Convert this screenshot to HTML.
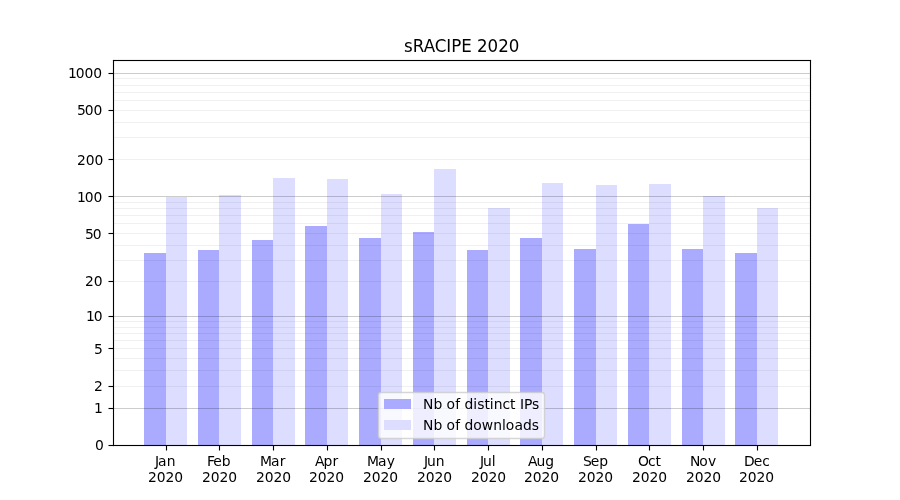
<!DOCTYPE html>
<html lang="en"><head><meta charset="utf-8"><title>sRACIPE 2020</title>
<style>
html,body{margin:0;padding:0;background:#fff;overflow:hidden;}
body{width:900px;height:500px;overflow:hidden;}
svg{display:block;}
text{font-family:"DejaVu Sans","Liberation Sans",sans-serif;fill:#000;white-space:pre;}
.t10{font-size:13.8889px;}
.t12{font-size:16.6667px;}
</style></head><body>
<svg width="900" height="500" viewBox="0 0 900 500">
<rect x="0" y="0" width="900" height="500" fill="#fff"/>
<g shape-rendering="crispEdges">
<g>
<rect x="144" y="253" width="22" height="192" fill="#aaaaff"/>
<rect x="166" y="197" width="21" height="248" fill="#ddddff"/>
<rect x="198" y="250" width="21" height="195" fill="#aaaaff"/>
<rect x="219" y="195" width="22" height="250" fill="#ddddff"/>
<rect x="252" y="240" width="21" height="205" fill="#aaaaff"/>
<rect x="273" y="178" width="22" height="267" fill="#ddddff"/>
<rect x="305" y="226" width="22" height="219" fill="#aaaaff"/>
<rect x="327" y="179" width="21" height="266" fill="#ddddff"/>
<rect x="359" y="238" width="22" height="207" fill="#aaaaff"/>
<rect x="381" y="194" width="21" height="251" fill="#ddddff"/>
<rect x="413" y="232" width="21" height="213" fill="#aaaaff"/>
<rect x="434" y="169" width="22" height="276" fill="#ddddff"/>
<rect x="467" y="250" width="21" height="195" fill="#aaaaff"/>
<rect x="488" y="208" width="22" height="237" fill="#ddddff"/>
<rect x="520" y="238" width="22" height="207" fill="#aaaaff"/>
<rect x="542" y="183" width="21" height="262" fill="#ddddff"/>
<rect x="574" y="249" width="22" height="196" fill="#aaaaff"/>
<rect x="596" y="185" width="21" height="260" fill="#ddddff"/>
<rect x="628" y="224" width="21" height="221" fill="#aaaaff"/>
<rect x="649" y="184" width="22" height="261" fill="#ddddff"/>
<rect x="682" y="249" width="21" height="196" fill="#aaaaff"/>
<rect x="703" y="196" width="22" height="249" fill="#ddddff"/>
<rect x="735" y="253" width="22" height="192" fill="#aaaaff"/>
<rect x="757" y="208" width="21" height="237" fill="#ddddff"/>
</g>
<g fill="#000" fill-opacity="0.2">
<rect x="113" y="73" width="698" height="1"/>
<rect x="113" y="196" width="698" height="1"/>
<rect x="113" y="316" width="698" height="1"/>
<rect x="113" y="408" width="698" height="1"/>
</g>
<g fill="#000" fill-opacity="0.06">
<rect x="113" y="78" width="698" height="1"/>
<rect x="113" y="85" width="698" height="1"/>
<rect x="113" y="92" width="698" height="1"/>
<rect x="113" y="100" width="698" height="1"/>
<rect x="113" y="110" width="698" height="1"/>
<rect x="113" y="122" width="698" height="1"/>
<rect x="113" y="137" width="698" height="1"/>
<rect x="113" y="159" width="698" height="1"/>
<rect x="113" y="202" width="698" height="1"/>
<rect x="113" y="208" width="698" height="1"/>
<rect x="113" y="215" width="698" height="1"/>
<rect x="113" y="223" width="698" height="1"/>
<rect x="113" y="233" width="698" height="1"/>
<rect x="113" y="245" width="698" height="1"/>
<rect x="113" y="260" width="698" height="1"/>
<rect x="113" y="281" width="698" height="1"/>
<rect x="113" y="321" width="698" height="1"/>
<rect x="113" y="327" width="698" height="1"/>
<rect x="113" y="333" width="698" height="1"/>
<rect x="113" y="340" width="698" height="1"/>
<rect x="113" y="348" width="698" height="1"/>
<rect x="113" y="358" width="698" height="1"/>
<rect x="113" y="370" width="698" height="1"/>
<rect x="113" y="386" width="698" height="1"/>
</g>
<g fill="#000" fill-opacity="0.028">
<rect x="165" y="445" width="1" height="1"/><rect x="165" y="450" width="1" height="1"/><rect x="167" y="445" width="1" height="1"/><rect x="167" y="450" width="1" height="1"/><rect x="218" y="445" width="1" height="1"/><rect x="218" y="450" width="1" height="1"/><rect x="220" y="445" width="1" height="1"/><rect x="220" y="450" width="1" height="1"/><rect x="272" y="445" width="1" height="1"/><rect x="272" y="450" width="1" height="1"/><rect x="274" y="445" width="1" height="1"/><rect x="274" y="450" width="1" height="1"/><rect x="326" y="445" width="1" height="1"/><rect x="326" y="450" width="1" height="1"/><rect x="328" y="445" width="1" height="1"/><rect x="328" y="450" width="1" height="1"/><rect x="380" y="445" width="1" height="1"/><rect x="380" y="450" width="1" height="1"/><rect x="382" y="445" width="1" height="1"/><rect x="382" y="450" width="1" height="1"/><rect x="433" y="445" width="1" height="1"/><rect x="433" y="450" width="1" height="1"/><rect x="435" y="445" width="1" height="1"/><rect x="435" y="450" width="1" height="1"/><rect x="487" y="445" width="1" height="1"/><rect x="487" y="450" width="1" height="1"/><rect x="489" y="445" width="1" height="1"/><rect x="489" y="450" width="1" height="1"/><rect x="541" y="445" width="1" height="1"/><rect x="541" y="450" width="1" height="1"/><rect x="543" y="445" width="1" height="1"/><rect x="543" y="450" width="1" height="1"/><rect x="595" y="445" width="1" height="1"/><rect x="595" y="450" width="1" height="1"/><rect x="597" y="445" width="1" height="1"/><rect x="597" y="450" width="1" height="1"/><rect x="648" y="445" width="1" height="1"/><rect x="648" y="450" width="1" height="1"/><rect x="650" y="445" width="1" height="1"/><rect x="650" y="450" width="1" height="1"/><rect x="702" y="445" width="1" height="1"/><rect x="702" y="450" width="1" height="1"/><rect x="704" y="445" width="1" height="1"/><rect x="704" y="450" width="1" height="1"/><rect x="756" y="445" width="1" height="1"/><rect x="756" y="450" width="1" height="1"/><rect x="758" y="445" width="1" height="1"/><rect x="758" y="450" width="1" height="1"/><rect x="108" y="444" width="1" height="1"/><rect x="108" y="446" width="1" height="1"/><rect x="113" y="444" width="1" height="1"/><rect x="113" y="446" width="1" height="1"/><rect x="108" y="407" width="1" height="1"/><rect x="108" y="409" width="1" height="1"/><rect x="113" y="407" width="1" height="1"/><rect x="113" y="409" width="1" height="1"/><rect x="108" y="385" width="1" height="1"/><rect x="108" y="387" width="1" height="1"/><rect x="113" y="385" width="1" height="1"/><rect x="113" y="387" width="1" height="1"/><rect x="108" y="347" width="1" height="1"/><rect x="108" y="349" width="1" height="1"/><rect x="113" y="347" width="1" height="1"/><rect x="113" y="349" width="1" height="1"/><rect x="108" y="315" width="1" height="1"/><rect x="108" y="317" width="1" height="1"/><rect x="113" y="315" width="1" height="1"/><rect x="113" y="317" width="1" height="1"/><rect x="108" y="280" width="1" height="1"/><rect x="108" y="282" width="1" height="1"/><rect x="113" y="280" width="1" height="1"/><rect x="113" y="282" width="1" height="1"/><rect x="108" y="232" width="1" height="1"/><rect x="108" y="234" width="1" height="1"/><rect x="113" y="232" width="1" height="1"/><rect x="113" y="234" width="1" height="1"/><rect x="108" y="195" width="1" height="1"/><rect x="108" y="197" width="1" height="1"/><rect x="113" y="195" width="1" height="1"/><rect x="113" y="197" width="1" height="1"/><rect x="108" y="158" width="1" height="1"/><rect x="108" y="160" width="1" height="1"/><rect x="113" y="158" width="1" height="1"/><rect x="113" y="160" width="1" height="1"/><rect x="108" y="109" width="1" height="1"/><rect x="108" y="111" width="1" height="1"/><rect x="113" y="109" width="1" height="1"/><rect x="113" y="111" width="1" height="1"/><rect x="108" y="72" width="1" height="1"/><rect x="108" y="74" width="1" height="1"/><rect x="113" y="72" width="1" height="1"/><rect x="113" y="74" width="1" height="1"/>
</g>
<g fill="#000" fill-opacity="0.056">
<rect x="165" y="446" width="1" height="4"/><rect x="167" y="446" width="1" height="4"/><rect x="218" y="446" width="1" height="4"/><rect x="220" y="446" width="1" height="4"/><rect x="272" y="446" width="1" height="4"/><rect x="274" y="446" width="1" height="4"/><rect x="326" y="446" width="1" height="4"/><rect x="328" y="446" width="1" height="4"/><rect x="380" y="446" width="1" height="4"/><rect x="382" y="446" width="1" height="4"/><rect x="433" y="446" width="1" height="4"/><rect x="435" y="446" width="1" height="4"/><rect x="487" y="446" width="1" height="4"/><rect x="489" y="446" width="1" height="4"/><rect x="541" y="446" width="1" height="4"/><rect x="543" y="446" width="1" height="4"/><rect x="595" y="446" width="1" height="4"/><rect x="597" y="446" width="1" height="4"/><rect x="648" y="446" width="1" height="4"/><rect x="650" y="446" width="1" height="4"/><rect x="702" y="446" width="1" height="4"/><rect x="704" y="446" width="1" height="4"/><rect x="756" y="446" width="1" height="4"/><rect x="758" y="446" width="1" height="4"/><rect x="109" y="444" width="4" height="1"/><rect x="109" y="446" width="4" height="1"/><rect x="109" y="407" width="4" height="1"/><rect x="109" y="409" width="4" height="1"/><rect x="109" y="385" width="4" height="1"/><rect x="109" y="387" width="4" height="1"/><rect x="109" y="347" width="4" height="1"/><rect x="109" y="349" width="4" height="1"/><rect x="109" y="315" width="4" height="1"/><rect x="109" y="317" width="4" height="1"/><rect x="109" y="280" width="4" height="1"/><rect x="109" y="282" width="4" height="1"/><rect x="109" y="232" width="4" height="1"/><rect x="109" y="234" width="4" height="1"/><rect x="109" y="195" width="4" height="1"/><rect x="109" y="197" width="4" height="1"/><rect x="109" y="158" width="4" height="1"/><rect x="109" y="160" width="4" height="1"/><rect x="109" y="109" width="4" height="1"/><rect x="109" y="111" width="4" height="1"/><rect x="109" y="72" width="4" height="1"/><rect x="109" y="74" width="4" height="1"/><rect x="112" y="60" width="1" height="386"/><rect x="114" y="60" width="1" height="386"/><rect x="113" y="59" width="1" height="1"/><rect x="113" y="446" width="1" height="1"/><rect x="809" y="60" width="1" height="386"/><rect x="811" y="60" width="1" height="386"/><rect x="810" y="59" width="1" height="1"/><rect x="810" y="446" width="1" height="1"/><rect x="112" y="445" width="1" height="1"/><rect x="811" y="445" width="1" height="1"/><rect x="113" y="444" width="698" height="1"/><rect x="113" y="446" width="698" height="1"/><rect x="112" y="60" width="1" height="1"/><rect x="811" y="60" width="1" height="1"/><rect x="113" y="59" width="698" height="1"/><rect x="113" y="61" width="698" height="1"/>
</g>
<g fill="#000" fill-opacity="0.5">
<rect x="166" y="445" width="1" height="1"/><rect x="166" y="450" width="1" height="1"/><rect x="219" y="445" width="1" height="1"/><rect x="219" y="450" width="1" height="1"/><rect x="273" y="445" width="1" height="1"/><rect x="273" y="450" width="1" height="1"/><rect x="327" y="445" width="1" height="1"/><rect x="327" y="450" width="1" height="1"/><rect x="381" y="445" width="1" height="1"/><rect x="381" y="450" width="1" height="1"/><rect x="434" y="445" width="1" height="1"/><rect x="434" y="450" width="1" height="1"/><rect x="488" y="445" width="1" height="1"/><rect x="488" y="450" width="1" height="1"/><rect x="542" y="445" width="1" height="1"/><rect x="542" y="450" width="1" height="1"/><rect x="596" y="445" width="1" height="1"/><rect x="596" y="450" width="1" height="1"/><rect x="649" y="445" width="1" height="1"/><rect x="649" y="450" width="1" height="1"/><rect x="703" y="445" width="1" height="1"/><rect x="703" y="450" width="1" height="1"/><rect x="757" y="445" width="1" height="1"/><rect x="757" y="450" width="1" height="1"/><rect x="108" y="445" width="1" height="1"/><rect x="113" y="445" width="1" height="1"/><rect x="108" y="408" width="1" height="1"/><rect x="113" y="408" width="1" height="1"/><rect x="108" y="386" width="1" height="1"/><rect x="113" y="386" width="1" height="1"/><rect x="108" y="348" width="1" height="1"/><rect x="113" y="348" width="1" height="1"/><rect x="108" y="316" width="1" height="1"/><rect x="113" y="316" width="1" height="1"/><rect x="108" y="281" width="1" height="1"/><rect x="113" y="281" width="1" height="1"/><rect x="108" y="233" width="1" height="1"/><rect x="113" y="233" width="1" height="1"/><rect x="108" y="196" width="1" height="1"/><rect x="113" y="196" width="1" height="1"/><rect x="108" y="159" width="1" height="1"/><rect x="113" y="159" width="1" height="1"/><rect x="108" y="110" width="1" height="1"/><rect x="113" y="110" width="1" height="1"/><rect x="108" y="73" width="1" height="1"/><rect x="113" y="73" width="1" height="1"/>
</g>
<g fill="#000">
<rect x="166" y="446" width="1" height="4"/><rect x="219" y="446" width="1" height="4"/><rect x="273" y="446" width="1" height="4"/><rect x="327" y="446" width="1" height="4"/><rect x="381" y="446" width="1" height="4"/><rect x="434" y="446" width="1" height="4"/><rect x="488" y="446" width="1" height="4"/><rect x="542" y="446" width="1" height="4"/><rect x="596" y="446" width="1" height="4"/><rect x="649" y="446" width="1" height="4"/><rect x="703" y="446" width="1" height="4"/><rect x="757" y="446" width="1" height="4"/><rect x="109" y="445" width="4" height="1"/><rect x="109" y="408" width="4" height="1"/><rect x="109" y="386" width="4" height="1"/><rect x="109" y="348" width="4" height="1"/><rect x="109" y="316" width="4" height="1"/><rect x="109" y="281" width="4" height="1"/><rect x="109" y="233" width="4" height="1"/><rect x="109" y="196" width="4" height="1"/><rect x="109" y="159" width="4" height="1"/><rect x="109" y="110" width="4" height="1"/><rect x="109" y="73" width="4" height="1"/><rect x="113" y="60" width="1" height="386"/><rect x="810" y="60" width="1" height="386"/><rect x="113" y="445" width="698" height="1"/><rect x="113" y="60" width="698" height="1"/>
</g>
</g>
<g>
<rect x="378.5" y="392.5" width="166" height="46" rx="2.78" ry="2.78" fill="#fff" fill-opacity="0.8" stroke="#ccc" stroke-opacity="0.8" stroke-width="1.389"/>
<rect x="384" y="399" width="27" height="10" fill="#aaaaff" shape-rendering="crispEdges"/>
<rect x="384" y="420" width="27" height="10" fill="#ddddff" shape-rendering="crispEdges"/>
</g>
<g>
<text class="t10" x="154.887 157.965 166.855" y="466">Jan</text>
<text class="t10" x="147.949 156.637 165.465 174.168" y="482">2020</text>
<text class="t10" x="206.998 213.342 221.873" y="466">Feb</text>
<text class="t10" x="201.936 210.748 219.451 228.154" y="482">2020</text>
<text class="t10" x="259.985 270.953 279.703" y="466">Mar</text>
<text class="t10" x="255.922 264.735 273.438 282.141" y="482">2020</text>
<text class="t10" x="314.971 323.456 332.393" y="466">Apr</text>
<text class="t10" x="308.909 317.721 326.549 335.127" y="482">2020</text>
<text class="t10" x="366.958 377.926 386.676" y="466">May</text>
<text class="t10" x="362.895 371.708 380.536 389.364" y="482">2020</text>
<text class="t10" x="423.882 426.96 435.757" y="466">Jun</text>
<text class="t10" x="416.882 425.694 434.522 443.35" y="482">2020</text>
<text class="t10" x="479.931 482.884 491.681" y="466">Jul</text>
<text class="t10" x="470.993 479.681 488.509 497.337" y="482">2020</text>
<text class="t10" x="527.917 536.402 545.199" y="466">Aug</text>
<text class="t10" x="523.98 532.667 541.495 550.324" y="482">2020</text>
<text class="t10" x="582.904 590.701 599.248" y="466">Sep</text>
<text class="t10" x="577.966 586.654 595.482 604.31" y="482">2020</text>
<text class="t10" x="637.953 647.984 655.5" y="466">Oct</text>
<text class="t10" x="631.953 640.64 649.468 658.297" y="482">2020</text>
<text class="t10" x="690.002 699.252 707.986" y="466">Nov</text>
<text class="t10" x="685.939 694.627 703.455 712.283" y="482">2020</text>
<text class="t10" x="743.988 753.66 762.207" y="466">Dec</text>
<text class="t10" x="738.926 747.738 756.441 765.27" y="482">2020</text>
<text class="t10" x="95.028" y="450">0</text>
<text class="t10" x="93.903" y="413">1</text>
<text class="t10" x="94.028" y="391">2</text>
<text class="t10" x="94.028" y="354">5</text>
<text class="t10" x="85.903 93.715" y="321">10</text>
<text class="t10" x="85.028 93.84" y="286">20</text>
<text class="t10" x="84.903 92.715" y="239">50</text>
<text class="t10" x="76.903 84.715 93.418" y="202">100</text>
<text class="t10" x="76.903 85.715 94.418" y="165">200</text>
<text class="t10" x="76.903 84.84 93.418" y="115">500</text>
<text class="t10" x="67.903 75.715 84.418 93.247" y="78">1000</text>
<text class="t12" transform="translate(0,52) scale(1,1.06)" x="404.125 412.797 423.688 434.797 446.172 451.344 461.375 471.906 476.953 487.422 498.141 508.734" y="0">sRACIPE 2020</text>
<text class="t10" x="423.069 433.444 442.241 446.413 455.148 460.038 464.444 473.257 477.226 484.46 489.773 493.632 502.429 510.054 515.491 519.898 523.991 532.116" y="409">Nb of distinct IPs</text>
<text class="t10" x="423.069 433.444 442.241 446.413 455.148 460.038 464.444 473.257 481.741 493.21 501.882 505.741 514.476 522.976 531.663" y="430">Nb of downloads</text>
</g>
</svg>
</body></html>
